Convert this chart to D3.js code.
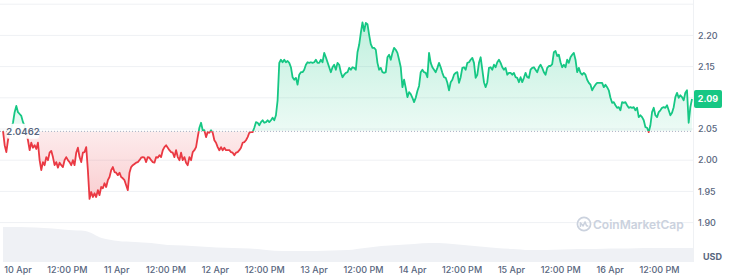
<!DOCTYPE html>
<html>
<head>
<meta charset="utf-8">
<script src="https://cdn.jsdelivr.net/npm/d3@7"></script>
<style>
    body { margin: 0; background: #fff; }
    svg { display: block; font-family: Inter, "Noto Sans", sans-serif; }
</style>
</head>
<body>
<svg id="chart" width="730" height="278"></svg>
<script>
// 7 day window, prices sampled evenly between these two times
const startTime = Date.UTC(2024, 3, 9, 20, 28);
const endTime = Date.UTC(2024, 3, 16, 20, 2);
const openPrice = 2.0462;
const lastPriceLabel = "2.09";
const priceTicks = [1.90, 1.95, 2.00, 2.05, 2.10, 2.15, 2.20, 2.25];
// 2.10 sits under the last price badge, so it has no label
const priceLabels = ["1.90", "1.95", "2.00", "2.05", "2.15", "2.20"];

const prices = [
    2.047, 2.024, 2.013, 2.032, 2.044, 2.052, 2.060, 2.077, 2.087, 2.077,
    2.074, 2.071, 2.061, 2.055, 2.044, 2.032, 2.016, 2.028, 2.020, 2.024,
    2.018, 2.028, 2.000, 1.984, 1.997, 1.992, 2.005, 2.000, 2.012, 2.015,
    2.005, 1.992, 1.997, 1.988, 1.996, 1.992, 1.989, 2.000, 2.005, 2.000,
    1.997, 1.992, 2.000, 1.992, 2.012, 2.020, 2.005, 1.997, 2.012, 2.013,
    2.021, 1.984, 1.938, 1.949, 1.941, 1.947, 1.941, 1.952, 1.944, 1.957,
    1.955, 1.963, 1.957, 1.968, 1.973, 1.984, 1.989, 1.981, 1.980, 1.976,
    1.980, 1.973, 1.971, 1.968, 1.960, 1.952, 1.980, 1.989, 1.992, 1.994,
    1.996, 1.997, 2.000, 2.004, 2.005, 2.004, 1.997, 2.005, 2.004, 2.000,
    1.997, 1.996, 2.005, 2.004, 2.008, 2.005, 2.016, 2.021, 2.024, 2.020,
    2.016, 2.013, 2.012, 2.005, 2.016, 2.005, 2.000, 2.012, 2.000, 2.005,
    1.996, 1.992, 2.005, 2.000, 2.013, 2.016, 2.021, 2.037, 2.052, 2.060,
    2.048, 2.048, 2.037, 2.045, 2.044, 2.048, 2.044, 2.032, 2.028, 2.021,
    2.016, 2.021, 2.016, 2.020, 2.016, 2.016, 2.016, 2.013, 2.012, 2.008,
    2.012, 2.013, 2.016, 2.020, 2.028, 2.029, 2.032, 2.037, 2.044, 2.045,
    2.045, 2.052, 2.061, 2.060, 2.056, 2.061, 2.064, 2.060, 2.061, 2.064,
    2.061, 2.064, 2.068, 2.064, 2.072, 2.096, 2.156, 2.161, 2.157, 2.161,
    2.157, 2.159, 2.156, 2.149, 2.133, 2.129, 2.132, 2.121, 2.137, 2.141,
    2.141, 2.145, 2.153, 2.157, 2.156, 2.157, 2.156, 2.157, 2.161, 2.156,
    2.156, 2.161, 2.157, 2.172, 2.165, 2.157, 2.149, 2.141, 2.149, 2.153,
    2.145, 2.156, 2.153, 2.141, 2.133, 2.137, 2.140, 2.141, 2.148, 2.145,
    2.149, 2.148, 2.145, 2.173, 2.185, 2.204, 2.221, 2.207, 2.220, 2.218,
    2.201, 2.186, 2.180, 2.180, 2.177, 2.156, 2.145, 2.148, 2.141, 2.140,
    2.141, 2.165, 2.169, 2.161, 2.172, 2.180, 2.177, 2.172, 2.161, 2.149,
    2.117, 2.129, 2.116, 2.101, 2.109, 2.106, 2.100, 2.093, 2.100, 2.111,
    2.119, 2.141, 2.145, 2.141, 2.140, 2.133, 2.172, 2.156, 2.149, 2.145,
    2.141, 2.148, 2.156, 2.149, 2.140, 2.133, 2.132, 2.124, 2.112, 2.125,
    2.129, 2.137, 2.140, 2.141, 2.124, 2.133, 2.148, 2.149, 2.145, 2.156,
    2.157, 2.161, 2.164, 2.156, 2.132, 2.137, 2.156, 2.165, 2.145, 2.125,
    2.117, 2.125, 2.148, 2.149, 2.145, 2.153, 2.149, 2.157, 2.161, 2.156,
    2.149, 2.145, 2.148, 2.137, 2.140, 2.140, 2.137, 2.140, 2.133, 2.132,
    2.125, 2.133, 2.125, 2.132, 2.140, 2.133, 2.132, 2.145, 2.148, 2.149,
    2.145, 2.141, 2.149, 2.153, 2.148, 2.141, 2.137, 2.148, 2.151, 2.151,
    2.154, 2.173, 2.175, 2.167, 2.169, 2.157, 2.149, 2.153, 2.149, 2.161,
    2.156, 2.165, 2.169, 2.172, 2.161, 2.141, 2.148, 2.140, 2.137, 2.140,
    2.137, 2.129, 2.124, 2.121, 2.112, 2.117, 2.121, 2.124, 2.124, 2.124,
    2.124, 2.117, 2.121, 2.117, 2.112, 2.100, 2.092, 2.093, 2.088, 2.084,
    2.085, 2.080, 2.093, 2.092, 2.093, 2.088, 2.084, 2.085, 2.084, 2.085,
    2.080, 2.084, 2.069, 2.072, 2.069, 2.064, 2.053, 2.052, 2.045, 2.056,
    2.077, 2.084, 2.072, 2.069, 2.077, 2.080, 2.084, 2.085, 2.084, 2.088,
    2.080, 2.072, 2.076, 2.085, 2.101, 2.108, 2.100, 2.104, 2.101, 2.096,
    2.108, 2.112, 2.060, 2.085, 2.098
];

// rolling volume (millions USD), one value every 4 hours from startTime
const volumes = [
    35, 35, 34.5, 33.5, 32, 31, 24, 21, 20, 19,
    17, 16.5, 15.5, 14.5, 14, 13.5, 12, 11, 11, 11,
    11.5, 12, 14, 16, 17, 18, 19, 18.5, 17, 15.5,
    14, 13, 12, 12, 12.5, 13, 13, 13.5, 13.5, 14,
    14, 14, 14
];

const green = "#16c784";
const red = "#ea3943";
const textGray = "#58667e";

drawChart();

function drawChart() {
    let svg = d3.select("#chart");
    let plotLeft = 0, plotRight = 693, volBottom = 262;

    let step = (endTime - startTime) / (prices.length - 1);
    let data = prices.map((p, i) => ({ t: new Date(startTime + i * step), p: p }));
    let volData = volumes.map((v, i) => ({ t: new Date(startTime + i * 4 * 3600 * 1000), v: v }));

    let x = d3.scaleUtc().domain([new Date(startTime), new Date(endTime)]).range([3, 692]);
    let y = d3.scaleLinear().domain([1.90, 2.25]).range([222.6, 4.2]);
    let yVol = d3.scaleLinear().domain([0, 40]).range([volBottom, 222]);
    let baseY = y(openPrice);

    let defs = svg.append("defs");
    defs.append("clipPath").attr("id", "clipPlot")
        .append("rect").attr("x", plotLeft).attr("y", 0)
        .attr("width", plotRight - plotLeft).attr("height", volBottom);
    defs.append("clipPath").attr("id", "clipUp")
        .append("rect").attr("x", plotLeft).attr("y", 0)
        .attr("width", plotRight - plotLeft).attr("height", baseY);
    defs.append("clipPath").attr("id", "clipDown")
        .append("rect").attr("x", plotLeft).attr("y", baseY)
        .attr("width", plotRight - plotLeft).attr("height", volBottom - baseY);

    let gUp = defs.append("linearGradient").attr("id", "gradUp")
        .attr("gradientUnits", "userSpaceOnUse")
        .attr("x1", 0).attr("x2", 0).attr("y1", y(2.25)).attr("y2", baseY);
    gUp.append("stop").attr("offset", 0).attr("stop-color", green).attr("stop-opacity", 0.3);
    gUp.append("stop").attr("offset", 1).attr("stop-color", green).attr("stop-opacity", 0.08);

    let gDown = defs.append("linearGradient").attr("id", "gradDown")
        .attr("gradientUnits", "userSpaceOnUse")
        .attr("x1", 0).attr("x2", 0).attr("y1", baseY).attr("y2", y(1.90));
    gDown.append("stop").attr("offset", 0).attr("stop-color", red).attr("stop-opacity", 0.1);
    gDown.append("stop").attr("offset", 1).attr("stop-color", red).attr("stop-opacity", 0.3);

    // horizontal grid
    svg.append("g")
        .selectAll("line")
        .data(priceTicks)
        .enter()
        .append("line")
        .attr("x1", plotLeft).attr("x2", plotRight)
        .attr("y1", d => y(d)).attr("y2", d => y(d))
        .attr("stroke", "#eff1f4")
        .attr("stroke-width", 1);

    // volume
    let volArea = d3.area()
        .x(d => x(d.t))
        .y0(volBottom)
        .y1(d => yVol(d.v))
        .curve(d3.curveMonotoneX);
    svg.append("path")
        .datum(volData)
        .attr("clip-path", "url(#clipPlot)")
        .attr("d", volArea)
        .attr("fill", "#eff1f5");

    drawWatermark(svg);

    // price areas
    let area = d3.area()
        .x(d => x(d.t))
        .y0(baseY)
        .y1(d => y(d.p));
    svg.append("path").datum(data)
        .attr("clip-path", "url(#clipUp)")
        .attr("d", area).attr("fill", "url(#gradUp)");
    svg.append("path").datum(data)
        .attr("clip-path", "url(#clipDown)")
        .attr("d", area).attr("fill", "url(#gradDown)");

    // open price dotted line
    svg.append("line")
        .attr("x1", plotLeft).attr("x2", plotRight)
        .attr("y1", baseY).attr("y2", baseY)
        .attr("stroke", "#a6b0c3")
        .attr("stroke-width", 1)
        .attr("stroke-dasharray", "1,2");

    let line = d3.line()
        .x(d => x(d.t))
        .y(d => y(d.p));
    svg.append("path").datum(data)
        .attr("clip-path", "url(#clipUp)")
        .attr("d", line).attr("fill", "none")
        .attr("stroke", green).attr("stroke-width", 1.8)
        .attr("stroke-linejoin", "round");
    svg.append("path").datum(data)
        .attr("clip-path", "url(#clipDown)")
        .attr("d", line).attr("fill", "none")
        .attr("stroke", red).attr("stroke-width", 1.8)
        .attr("stroke-linejoin", "round");

    // open price label
    svg.append("rect")
        .attr("x", 7).attr("y", baseY - 7.5)
        .attr("width", 32).attr("height", 15).attr("rx", 2)
        .attr("fill", "#fff").attr("fill-opacity", 0.92);
    svg.append("text")
        .attr("x", 23).attr("y", baseY)
        .attr("dy", "0.35em")
        .attr("text-anchor", "middle")
        .attr("font-size", 9.5).attr("font-weight", 600)
        .attr("fill", textGray)
        .text(d3.format(".4f")(openPrice));

    // right border
    svg.append("line")
        .attr("x1", plotRight + 0.5).attr("x2", plotRight + 0.5)
        .attr("y1", 0).attr("y2", volBottom)
        .attr("stroke", "#eff1f4");

    // y labels
    svg.append("g")
        .selectAll("text")
        .data(priceLabels)
        .enter()
        .append("text")
        .attr("x", 698)
        .attr("y", d => y(+d))
        .attr("dy", "0.35em")
        .attr("font-size", 9).attr("font-weight", 500)
        .attr("fill", textGray)
        .text(d => d);

    // last price badge
    let lastY = y(prices[prices.length - 1]);
    svg.append("rect")
        .attr("x", 694).attr("y", lastY - 9)
        .attr("width", 28).attr("height", 18).attr("rx", 2)
        .attr("fill", green);
    svg.append("text")
        .attr("x", 708).attr("y", lastY)
        .attr("dy", "0.35em")
        .attr("text-anchor", "middle")
        .attr("font-size", 9).attr("font-weight", 700)
        .attr("fill", "#fff")
        .text(lastPriceLabel);

    svg.append("text")
        .attr("x", 703).attr("y", 257)
        .attr("dy", "0.35em")
        .attr("font-size", 9).attr("font-weight", 700)
        .attr("fill", textGray)
        .text("USD");

    // x axis
    let ticks = d3.utcHour.every(12).range(new Date(startTime), new Date(endTime));
    let xAxis = d3.axisBottom(x)
        .tickValues(ticks)
        .tickSize(0)
        .tickPadding(4.5)
        .tickFormat(d => d.getUTCHours() === 0 ? d3.utcFormat("%-d %b")(d) : "12:00 PM");
    let gx = svg.append("g")
        .attr("transform", `translate(0,${volBottom})`)
        .call(xAxis);
    gx.select(".domain").remove();
    gx.selectAll("text")
        .attr("font-family", "Inter, 'Noto Sans', sans-serif")
        .attr("font-size", 9).attr("font-weight", 500)
        .attr("fill", textGray);
}

function drawWatermark(svg) {
    let g = svg.append("g").attr("transform", "translate(584,224)");
    g.append("circle")
        .attr("r", 6.6)
        .attr("fill", "none")
        .attr("stroke", "#cbd2de")
        .attr("stroke-width", 1.7);
    g.append("path")
        .attr("d", "M-3.6,3 V-1.2 L-0.9,1.9 L1.1,-2.1 L2.4,1.4 Q3,2.6 4.3,1.6")
        .attr("fill", "none")
        .attr("stroke", "#cbd2de")
        .attr("stroke-width", 1.5)
        .attr("stroke-linejoin", "round");
    g.append("text")
        .attr("x", 9).attr("y", 1)
        .attr("dy", "0.35em")
        .attr("font-size", 12).attr("font-weight", 600)
        .attr("fill", "#cbd2de")
        .text("CoinMarketCap");
}
</script>
</body>
</html>
